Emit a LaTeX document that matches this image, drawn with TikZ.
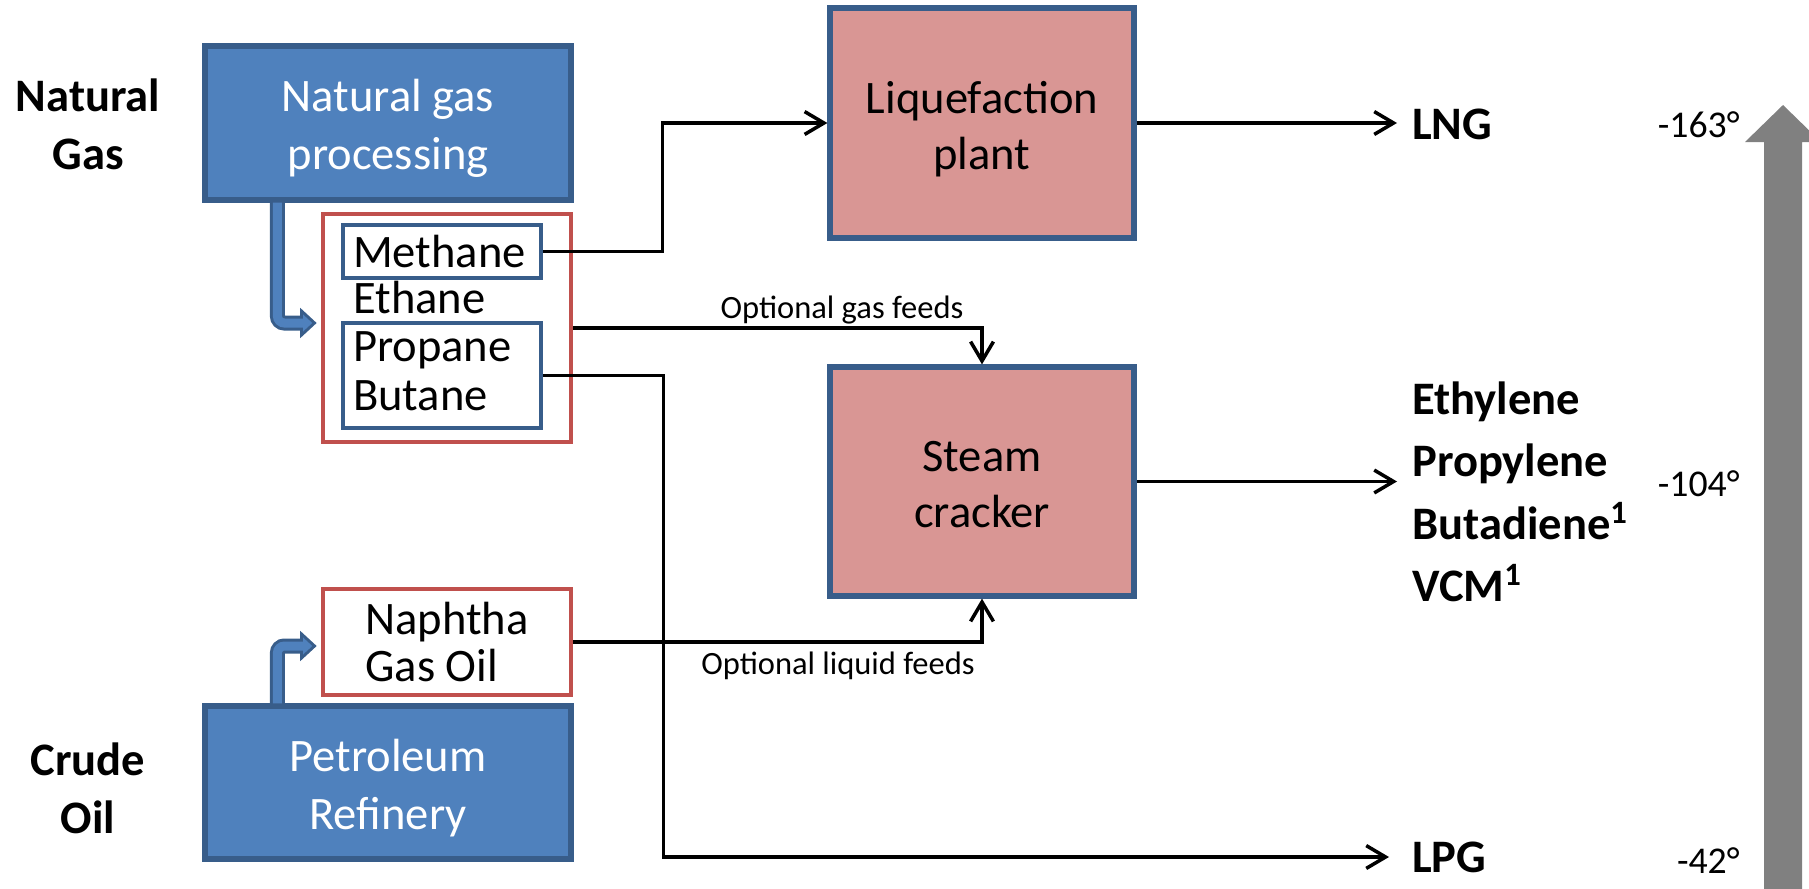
\documentclass[tikz,border=0pt]{standalone}
\usepackage{fontspec}
\setmainfont{Carlito}
\usepackage{xcolor}
\usepackage{tikz}
\usetikzlibrary{arrows.meta,calc}

\definecolor{procblue}{HTML}{4F81BD}
\definecolor{procedge}{HTML}{385D8A}
\definecolor{plantpink}{HTML}{D99694}
\definecolor{feedred}{HTML}{C0504D}
\definecolor{tempgray}{HTML}{808080}

\newcommand\topgap[1][25pt]{\rule{0pt}{#1}}
\newcommand\lowgap{\rule[-5pt]{0pt}{5pt}}

\begin{document}
\begin{tikzpicture}[x=0.02cm, y=-0.02cm,
  proc/.style={draw=procedge, fill=procblue, line width=3pt, text=white, align=center, font=\fontsize{26.5}{33}\selectfont},
  plant/.style={draw=procedge, fill=plantpink, line width=3pt, align=center, font=\fontsize{26.5}{32}\selectfont},
  feedbox/.style={draw=feedred, fill=white, line width=2.8pt},
  cutbox/.style={draw=procedge, line width=2.8pt, align=left, inner xsep=0.2cm, font=\fontsize{26.5}{28}\selectfont},
  src/.style={align=center, font=\bfseries\fontsize{26.5}{33}\selectfont},
  prod/.style={anchor=west, align=left, inner sep=8.5pt, font=\bfseries\fontsize{26.5}{35.5}\selectfont},
  temp/.style={anchor=east, inner sep=0pt, font=\fontsize{21.5}{24}\selectfont},
  note/.style={inner sep=0pt, font=\fontsize{18.5}{22}\selectfont},
  flow/.style={line width=2pt, -{Straight Barb[length=11pt,width=13pt]}},
  fatrim/.style={draw=procedge, line width=0.3cm, rounded corners=0.14cm},
  fatcore/.style={draw=procblue, line width=0.18cm, rounded corners=0.14cm},
  fathead/.style={fill=procblue, draw=procedge, line width=1.6pt, line join=miter}]
\useasboundingbox (0,0) rectangle (1809,889);

% sources
\node[src] (natgas) at (88,124) {Natural\\Gas};
\node[src] (crude) at (88,788) {Crude\\Oil};
\node[proc, minimum width=7.32cm, minimum height=3.08cm] (ngp) at (388,123) {\topgap Natural gas\\processing};
\node[proc, minimum width=7.32cm, minimum height=3.06cm] (ref) at (388,782.5) {\topgap Petroleum\\Refinery};

% feeds
\node[feedbox, minimum width=4.96cm, minimum height=4.56cm] (gasfeed) at (447,328) {};
\node[cutbox, text width=3.56cm, minimum height=1.06cm] (methane) at (442,251.5) {Methane};
\node[anchor=base west, inner sep=0pt, font=\fontsize{26.5}{28}\selectfont] (ethane) at (353,313) {Ethane};
\node[cutbox, text width=3.56cm, minimum height=2.1cm] (propane) at (442,375.5) {Propane\\Butane\lowgap};
\node[feedbox, minimum width=4.96cm, minimum height=2.12cm, align=left, font=\fontsize{26.5}{27}\selectfont] (naph) at (447,642) {Naphtha\\Gas Oil};

% plants
\node[plant, minimum width=6.08cm, minimum height=4.6cm] (liq) at (982,123) {\topgap Liquefaction\\plant};
\node[plant, minimum width=6.08cm, minimum height=4.58cm] (crk) at (982,481.5) {\topgap[21pt]Steam\\cracker};

% products
\node[prod] (lng) at (1397,124) {LNG};
\node[prod] (prods) at (1397,492) {Ethylene\\Propylene\\Butadiene\textsuperscript{1}\\VCM\textsuperscript{1}};
\node[prod] (lpg) at (1397,857) {LPG};

% temperatures
\fill[tempgray] (1764,889) -- (1764,142) -- (1745,142) -- (1783,105) -- (1821,142) -- (1802,142) -- (1802,889) -- cycle;
\node[temp] (tlng) at (1740,125) {-163°};
\node[temp] (tcrk) at (1740,484) {-104°};
\node[temp] (tlpg) at (1740,861) {-42°};

% fat arrows
\coordinate (gasin) at ($(gasfeed.west)+(-19,-5)$);
\coordinate (oilin) at ($(naph.west)+(-19,4)$);
\draw[fatrim] (ngp.south west) ++(75,0) |- (gasin);
\filldraw[fathead] (gasin) ++(0,-12) -- ++(13,12) -- ++(-13,12) -- cycle;
\draw[fatcore] (ngp.south west) ++(75,0) |- ($(gasin)+(2,0)$);
\draw[fatrim] (ref.north west) ++(75,0) |- (oilin);
\filldraw[fathead] (oilin) ++(0,-12) -- ++(13,12) -- ++(-13,12) -- cycle;
\draw[fatcore] (ref.north west) ++(75,0) |- ($(oilin)+(2,0)$);

% flows
\draw[flow] (methane.east) -- ++(119,0) |- (liq.west);
\draw[flow] (liq.east) -- (liq.east -| lng.west);
\draw[flow] (gasfeed.east) -| (crk.north);
\draw[flow] (naph.east) -| (crk.south);
\draw[flow] (crk.east) -- (crk.east -| prods.west);
\draw[flow, shorten >=0.16cm] (propane.east) -- ++(120,0) |- (lpg.west);
\node[note] (gasnote) at (842,310) {Optional gas feeds};
\node[note] (liqnote) at (838,666) {Optional liquid feeds};
\end{tikzpicture}
\end{document}
